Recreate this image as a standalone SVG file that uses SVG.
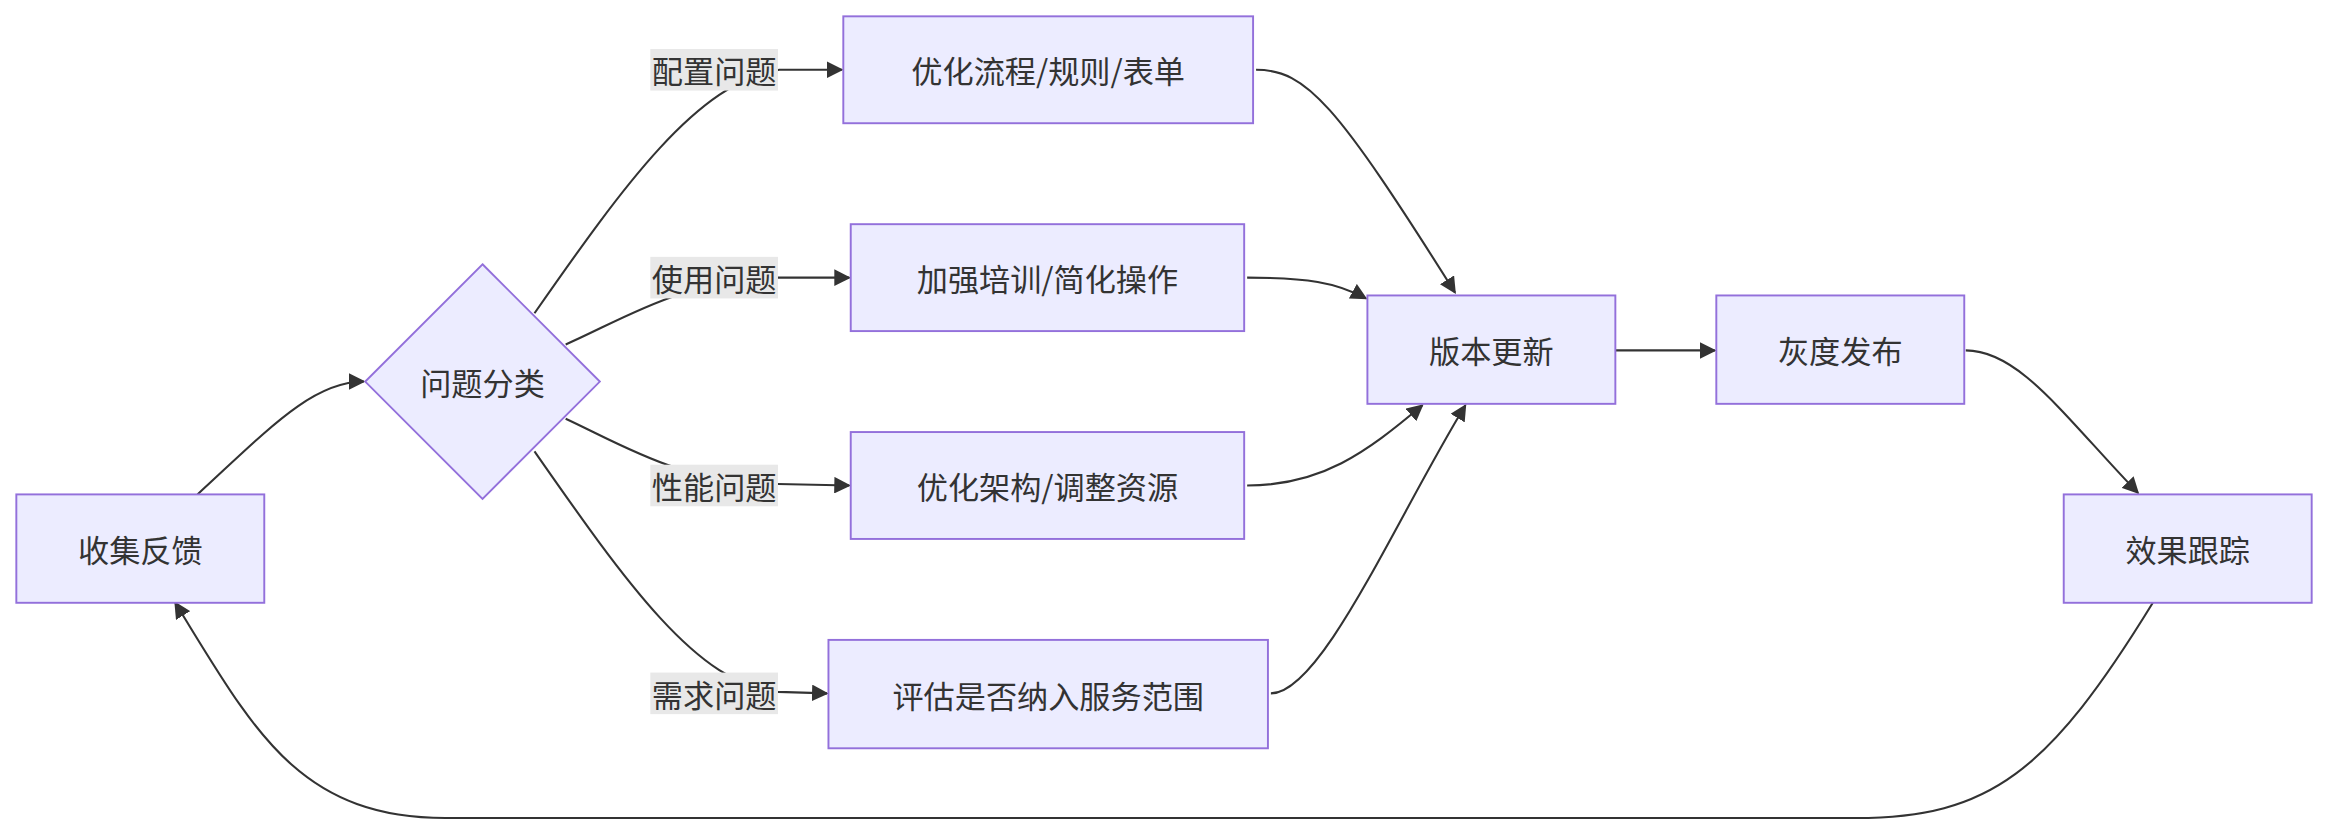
<svg xmlns="http://www.w3.org/2000/svg" width="2328" height="834" viewBox="0 0 2328 834">
<style>
.n{fill:#ECECFF;stroke:#9370DB;stroke-width:1.3}
.t{font-family:"Noto Sans CJK SC","Liberation Sans",sans-serif;font-size:21px;fill:#333;text-anchor:middle;dominant-baseline:central}
.e{fill:none;stroke:#333;stroke-width:1.4}
.lb{fill:#e8e8e8}
</style>
<defs><marker id="a" viewBox="0 0 10 10" refX="9" refY="5" markerWidth="8" markerHeight="8" orient="auto"><path d="M0,0L10,5L0,10z" fill="#333"/></marker></defs>
<rect width="2328" height="834" fill="#fff"/>
<g transform="scale(1.4847)">
<g id="edges">
<path class="e" marker-end="url(#a)" d="M133,333 C180,290 210,257 245,257"/>
<path class="e" marker-end="url(#a)" d="M360,211 C420,125 470,55 525,47 L567,47"/>
<path class="e" marker-end="url(#a)" d="M381,232 C420,215 460,188 524,187 L572,187"/>
<path class="e" marker-end="url(#a)" d="M381,282 C420,300 460,326 524,326 L572,327"/>
<path class="e" marker-end="url(#a)" d="M360,304 C420,390 470,462 524,466 L557,467"/>
<path class="e" marker-end="url(#a)" d="M846,47 C880,47 900,70 980,197"/>
<path class="e" marker-end="url(#a)" d="M840,187 C880,187 900,190 920,201"/>
<path class="e" marker-end="url(#a)" d="M840,327 C890,327 920,305 958,273"/>
<path class="e" marker-end="url(#a)" d="M856,467 C890,467 940,350 987,273"/>
<path class="e" marker-end="url(#a)" d="M1088,236 L1155,236"/>
<path class="e" marker-end="url(#a)" d="M1324,236 C1360,236 1390,280 1440,332"/>
<path class="e" marker-end="url(#a)" d="M1450,406 C1380,520 1340,551 1250,551 L300,551 C200,551 170,490 118,406"/>
<rect class="lb" x="438" y="33" width="86" height="28"/><text class="t" x="481" y="47">配置问题</text>
<rect class="lb" x="438" y="173" width="86" height="28"/><text class="t" x="481" y="187">使用问题</text>
<rect class="lb" x="438" y="313" width="86" height="28"/><text class="t" x="481" y="327">性能问题</text>
<rect class="lb" x="438" y="453" width="86" height="28"/><text class="t" x="481" y="467">需求问题</text>
</g>
<g id="n1"><rect class="n" x="11" y="333" width="167" height="73"/><text class="t" x="94.5" y="369.5">收集反馈</text></g>
<g id="n2"><polygon class="n" points="325,178 404,257 325,336 246,257"/><text class="t" x="325" y="257">问题分类</text></g>
<g id="n3"><rect class="n" x="568" y="11" width="276" height="72"/><text class="t" x="706" y="47">优化流程/规则/表单</text></g>
<g id="n4"><rect class="n" x="573" y="151" width="265" height="72"/><text class="t" x="705.5" y="187">加强培训/简化操作</text></g>
<g id="n5"><rect class="n" x="573" y="291" width="265" height="72"/><text class="t" x="705.5" y="327">优化架构/调整资源</text></g>
<g id="n6"><rect class="n" x="558" y="431" width="296" height="73"/><text class="t" x="706" y="467.5">评估是否纳入服务范围</text></g>
<g id="n7"><rect class="n" x="921" y="199" width="167" height="73"/><text class="t" x="1004.5" y="235.5">版本更新</text></g>
<g id="n8"><rect class="n" x="1156" y="199" width="167" height="73"/><text class="t" x="1239.5" y="235.5">灰度发布</text></g>
<g id="n9"><rect class="n" x="1390" y="333" width="167" height="73"/><text class="t" x="1473.5" y="369.5">效果跟踪</text></g>
</g>
</svg>
